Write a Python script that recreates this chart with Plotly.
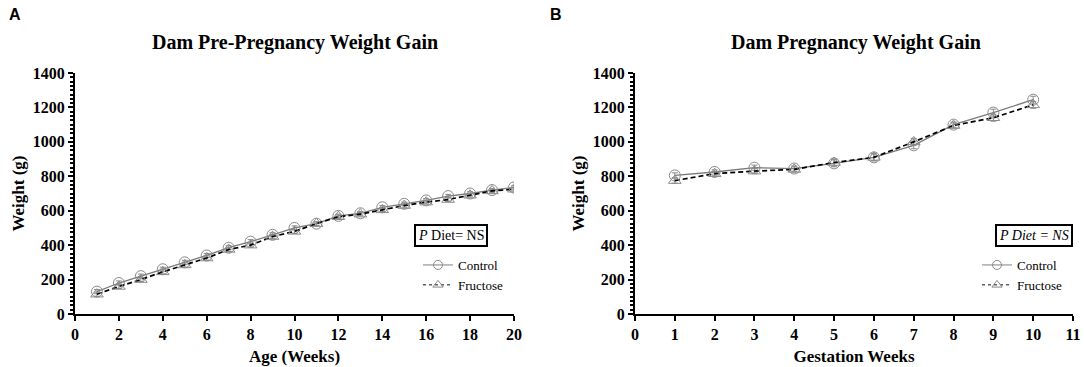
import plotly.graph_objects as go

# ---------------- data ----------------
age_weeks = list(range(1, 21))
pre_control = [130, 180, 220, 260, 300, 340, 385, 420, 460, 500, 525, 570, 585, 620, 640, 660, 685, 700, 720, 735]
pre_control_err = [12, 12, 12, 12, 12, 12, 12, 12, 12, 12, 10, 10, 10, 10, 10, 10, 10, 10, 10, 10]
pre_fructose = [115, 160, 200, 245, 285, 325, 375, 400, 450, 480, 525, 565, 580, 605, 630, 650, 665, 690, 715, 725]
pre_fructose_err = [12, 12, 12, 12, 12, 12, 12, 12, 12, 12, 10, 10, 10, 10, 10, 10, 10, 10, 10, 10]

gest_weeks = list(range(1, 11))
preg_control = [805, 825, 850, 845, 875, 910, 980, 1100, 1170, 1245]
preg_control_err = [15, 12, 15, 15, 20, 20, 20, 15, 20, 20]
preg_fructose = [775, 815, 830, 840, 880, 910, 1000, 1095, 1140, 1215]
preg_fructose_err = [15, 12, 15, 15, 20, 20, 20, 15, 20, 20]

series_names = ["Control", "Fructose"]
titles = ["Dam Pre-Pregnancy Weight Gain", "Dam Pregnancy Weight Gain"]
x_titles = ["Age (Weeks)", "Gestation Weeks"]
y_title = "Weight (g)"
stat_labels = ["<i>P</i> Diet= NS", "<i>P Diet = NS</i>"]

W, H = 1084, 367
SERIF = "Liberation Serif"
SANS = "Liberation Sans"

def px(x):
    return x / W

def py(y):
    return 1 - y / H

fig = go.Figure()

ctrl_line = dict(color="#7a7a7a", width=1.3)
ctrl_marker = dict(symbol="circle-open", size=11, color="#8a8a8a", line=dict(width=1))
fruc_line = dict(color="#000000", width=1.7, dash="5px,3px")
fruc_marker = dict(symbol="triangle-up-open", size=11, color="#8a8a8a", line=dict(width=1))
err_c = dict(type="data", thickness=1, width=3, color="#8a8a8a")

panels = [
    ("x", "y", "legend", age_weeks, pre_control, pre_control_err, pre_fructose, pre_fructose_err),
    ("x2", "y2", "legend2", gest_weeks, preg_control, preg_control_err, preg_fructose, preg_fructose_err),
]
for xa, ya, lg, xs, c, ce, f, fe in panels:
    fig.add_trace(go.Scatter(x=xs, y=c, name=series_names[0], mode="lines+markers",
                             line=ctrl_line, marker=ctrl_marker,
                             error_y=dict(array=ce, **err_c),
                             xaxis=xa, yaxis=ya, showlegend=False))
    fig.add_trace(go.Scatter(x=xs, y=f, name=series_names[1], mode="lines+markers",
                             line=fruc_line, marker=fruc_marker,
                             error_y=dict(array=fe, **err_c),
                             xaxis=xa, yaxis=ya, showlegend=False))
    # legend entries (no error bars)
    fig.add_trace(go.Scatter(x=[None], y=[None], name=series_names[0], mode="lines+markers",
                             line=dict(color="#808080", width=1),
                             marker=dict(symbol="circle-open", size=9, color="#8a8a8a", line=dict(width=1)),
                             xaxis=xa, yaxis=ya, legend=lg))
    fig.add_trace(go.Scatter(x=[None], y=[None], name=series_names[1], mode="lines+markers",
                             line=dict(color="#111111", width=1, dash="dot"),
                             marker=dict(symbol="triangle-up-open", size=9, color="#8a8a8a", line=dict(width=1)),
                             xaxis=xa, yaxis=ya, legend=lg))

tickfont = dict(family=SERIF, size=16, color="black")
axis_common = dict(showline=True, linecolor="black", linewidth=2.2, ticks="outside",
                   ticklen=5, tickwidth=2, tickcolor="black", showgrid=False,
                   zeroline=False, tickfont=tickfont, automargin=False,
                   tickprefix="<b>", ticksuffix="</b>")
title_font = dict(family=SERIF, size=17, color="black")
yaxis_common = dict(axis_common, range=[0, 1400], dtick=200,
                    minor=dict(dtick=25, ticks="outside", ticklen=3, tickwidth=1.5, tickcolor="black"),
                    title=dict(text="<b>" + y_title + "</b>", font=title_font, standoff=4))

ydom = [py(314), py(73)]
legend_common = dict(xanchor="left", yanchor="top", itemwidth=30,
                     font=dict(family=SERIF, size=13, color="black"), bgcolor="rgba(0,0,0,0)",
                     tracegroupgap=0)
fig.update_layout(
    width=W, height=H,
    margin=dict(l=0, r=0, t=0, b=0),
    paper_bgcolor="white", plot_bgcolor="white",
    xaxis=dict(axis_common, domain=[px(75), px(514)], range=[0, 20], dtick=2, anchor="y",
               title=dict(text="<b>" + x_titles[0] + "</b>", font=title_font, standoff=8)),
    yaxis=dict(yaxis_common, domain=ydom, anchor="x"),
    xaxis2=dict(axis_common, domain=[px(635), px(1073)], range=[0, 11], dtick=1, anchor="y2",
                title=dict(text="<b>" + x_titles[1] + "</b>", font=title_font, standoff=8)),
    yaxis2=dict(yaxis_common, domain=ydom, anchor="x2"),
    legend=dict(legend_common, x=px(418), y=py(250)),
    legend2=dict(legend_common, x=px(977), y=py(250)),
    showlegend=True,
)

annotations = [
    dict(text="<b>A</b>", x=px(7), y=py(4), xanchor="left", yanchor="top",
         font=dict(family=SANS, size=16, color="black")),
    dict(text="<b>B</b>", x=px(548), y=py(4), xanchor="left", yanchor="top",
         font=dict(family=SANS, size=16, color="black")),
    dict(text="<b>" + titles[0] + "</b>", x=px(295), y=py(42), xanchor="center", yanchor="middle",
         font=dict(family=SERIF, size=20, color="black")),
    dict(text="<b>" + titles[1] + "</b>", x=px(856), y=py(42), xanchor="center", yanchor="middle",
         font=dict(family=SERIF, size=20, color="black")),
    dict(text=stat_labels[0], x=px(451), y=py(235), xanchor="center", yanchor="middle",
         font=dict(family=SERIF, size=14, color="black"),
         bordercolor="black", borderwidth=2, borderpad=2, bgcolor="white"),
    dict(text=stat_labels[1], x=px(1034), y=py(235), xanchor="center", yanchor="middle",
         font=dict(family=SERIF, size=14, color="black"),
         bordercolor="black", borderwidth=2, borderpad=2, bgcolor="white"),
]
for a in annotations:
    a.update(xref="paper", yref="paper", showarrow=False)
fig.update_layout(annotations=annotations)

fig.write_html("out.html", config={"displayModeBar": False},
               post_script="document.body.style.margin='0';document.body.style.overflow='hidden';")
